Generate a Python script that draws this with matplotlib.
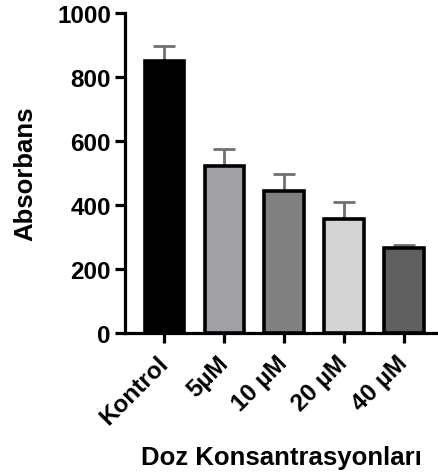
import matplotlib
matplotlib.use("Agg")
import matplotlib.pyplot as plt

categories = ["Kontrol", "5µM", "10 µM", "20 µM", "40 µM"]
values = [850, 522, 444, 356, 266]
errors = [47, 53, 53, 53, 9]
colors = ["#000000", "#a1a1a5", "#808080", "#d4d4d4", "#606060"]
yticks = [0, 200, 400, 600, 800, 1000]

plt.rcParams['font.family'] = ['Liberation Sans', 'DejaVu Sans']
plt.rcParams['font.weight'] = 'bold'

fig = plt.figure(figsize=(4.38, 4.77), dpi=100)
ax = fig.add_axes([0.285, 0.30, 0.713, 0.671])

x = list(range(len(categories)))
ax.bar(x, values, width=0.66, color=colors, edgecolor="black", linewidth=2.6, zorder=3)
ax.errorbar(x, values, yerr=[[0]*len(errors), errors], fmt="none", ecolor="#707070",
            elinewidth=2, capsize=8, capthick=2, zorder=2)

ax.set_ylim(0, 1000)
ax.set_xlim(-0.66, 4.55)
ax.set_yticks(yticks)
ax.set_xticks(x)
ax.set_xticklabels(categories, rotation=45, ha="right", va="center", rotation_mode="anchor")
ax.tick_params(axis="both", width=2.3, length=7, labelsize=17.5)
ax.tick_params(axis="x", pad=12)
ax.tick_params(axis="y", pad=3)
for s in ["top", "right"]:
    ax.spines[s].set_visible(False)
for s in ["left", "bottom"]:
    ax.spines[s].set_linewidth(2.3)

ax.set_ylabel("Absorbans", fontsize=18.5, fontweight="bold", labelpad=14)
ax.set_xlabel("Doz Konsantrasyonları", fontsize=18.5, fontweight="bold", labelpad=12)

fig.savefig("out.png", dpi=100)
